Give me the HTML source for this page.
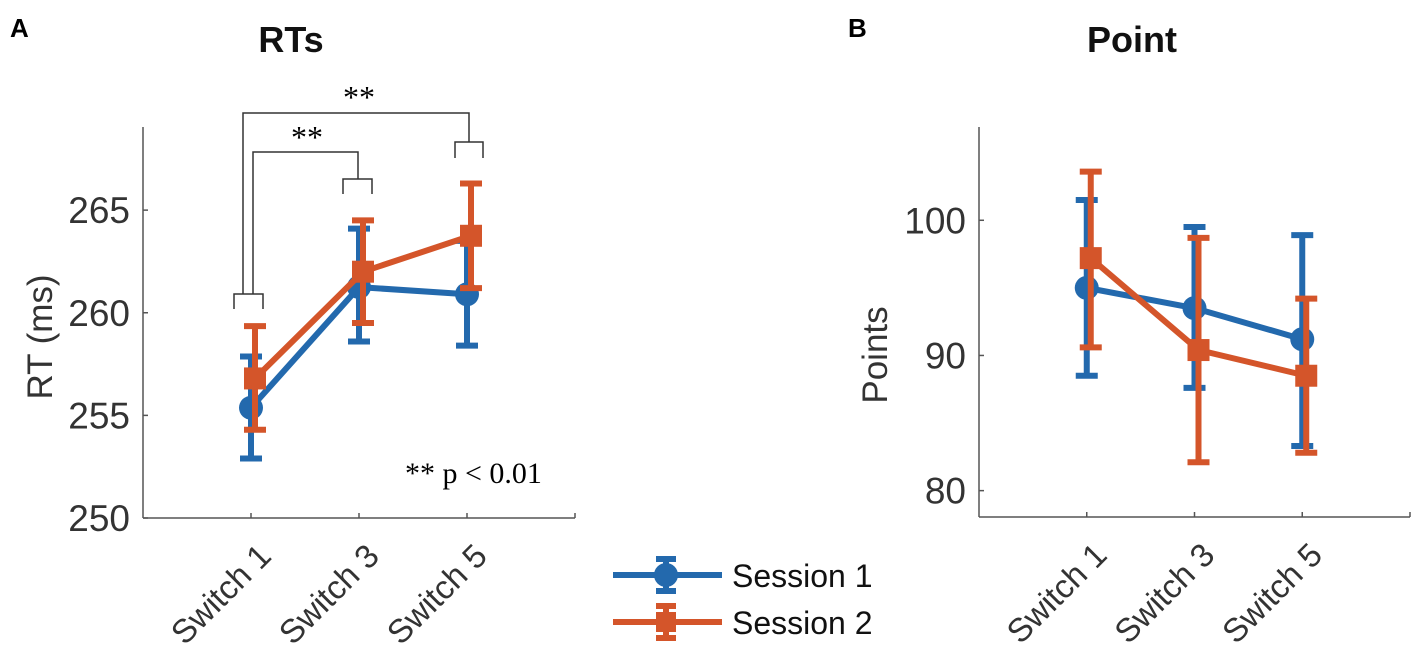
<!DOCTYPE html>
<html><head><meta charset="utf-8"><style>
body{margin:0;background:#fff}
svg{display:block;font-family:"Liberation Sans",sans-serif}
</style></head><body>
<svg id="c" width="1417" height="658" viewBox="0 0 1417 658">
<text x="10" y="37" font-size="26" font-weight="bold">A</text>
<text x="848" y="37" font-size="26" font-weight="bold">B</text>
<text x="291" y="52" font-size="36" font-weight="bold" text-anchor="middle" fill="#111">RTs</text>
<text x="1132" y="52" font-size="36" font-weight="bold" text-anchor="middle" fill="#111">Point</text>
<text transform="translate(52,337) rotate(-90)" font-size="35" text-anchor="middle" fill="#333">RT (ms)</text>
<text transform="translate(887,355) rotate(-90)" font-size="35" text-anchor="middle" fill="#333">Points</text>
<g id="sig" stroke="#333" stroke-width="1.5" fill="none">
<polyline points="243,294 243,113 469,113 469,142"/>
<polyline points="253,294 253,152 358,152 358,179"/>
<polyline points="234,309 234,294 263,294 263,309"/>
<polyline points="343,194 343,179 372,179 372,194"/>
<polyline points="455,158 455,142 483,142 483,158"/>
</g>
<text x="359" y="108" font-size="32" font-family="Liberation Serif,serif" text-anchor="middle">**</text>
<text x="307" y="148" font-size="32" font-family="Liberation Serif,serif" text-anchor="middle">**</text>
<text x="405" y="483" font-size="30" font-family="Liberation Serif,serif">** p &lt; 0.01</text>
<g>
<line x1="613" y1="575" x2="722" y2="575" stroke="#2369ad" stroke-width="6"/>
<line x1="666" y1="559" x2="666" y2="591" stroke="#2369ad" stroke-width="6"/>
<line x1="656" y1="559" x2="676" y2="559" stroke="#2369ad" stroke-width="6"/>
<line x1="656" y1="591" x2="676" y2="591" stroke="#2369ad" stroke-width="6"/>
<circle cx="666" cy="575" r="12" fill="#2369ad"/>
<text x="732" y="587" font-size="32" fill="#111">Session 1</text>
<line x1="613" y1="622" x2="722" y2="622" stroke="#d4552a" stroke-width="6"/>
<line x1="666" y1="606" x2="666" y2="638" stroke="#d4552a" stroke-width="6"/>
<line x1="656" y1="606" x2="676" y2="606" stroke="#d4552a" stroke-width="6"/>
<line x1="656" y1="638" x2="676" y2="638" stroke="#d4552a" stroke-width="6"/>
<rect x="656" y="612" width="20" height="20" fill="#d4552a"/>
<text x="732" y="634" font-size="32" fill="#111">Session 2</text>
</g>
</svg>
<script>
const categories = ["Switch 1","Switch 3","Switch 5"];
const rtS1 = [255.37, 261.25, 260.9];
const rtS1Hi = [257.87, 264.1, 263.5];
const rtS1Lo = [252.9, 258.6, 258.4];
const rtS2 = [256.8, 262.0, 263.75];
const rtS2Hi = [259.35, 264.5, 266.3];
const rtS2Lo = [254.3, 259.5, 261.2];
const rtTicks = [250, 255, 260, 265];
const ptS1 = [95.0, 93.5, 91.2];
const ptS1Hi = [101.5, 99.5, 98.9];
const ptS1Lo = [88.5, 87.6, 83.3];
const ptS2 = [97.2, 90.4, 88.5];
const ptS2Hi = [103.6, 98.7, 94.2];
const ptS2Lo = [90.6, 82.1, 82.8];
const ptTicks = [80, 90, 100];

const svg = document.getElementById('c');
const NS = 'http://www.w3.org/2000/svg';
function mk(tag, attrs, parent){const e=document.createElementNS(NS,tag);for(const k in attrs)e.setAttribute(k,attrs[k]);(parent||svg).appendChild(e);return e;}
const BLUE='#2369ad', ORANGE='#d4552a';

function panel(p){
  const xs = i => p.x0 + (i+1)*(p.x1-p.x0)/4;
  const ys = v => p.yb - (v-p.vmin)*(p.yb-p.yt)/(p.vmax-p.vmin);
  const g = mk('g',{});
  
  
  mk('line',{x1:p.x0,y1:p.yt,x2:p.x0,y2:p.yb,stroke:'#555','stroke-width':1.5},g);
  mk('line',{x1:p.x0,y1:p.yb,x2:p.x1,y2:p.yb,stroke:'#555','stroke-width':1.5},g);
  mk('line',{x1:p.x1,y1:p.yb,x2:p.x1,y2:p.yb-5,stroke:'#555','stroke-width':1.5},g);
  p.ticks.forEach(t=>{
    const y=ys(t);
    mk('line',{x1:p.x0,y1:y,x2:p.x0+5,y2:y,stroke:'#555','stroke-width':1.5},g);
    const tx=mk('text',{x:p.x0-13,y:y+13,'font-size':37,'text-anchor':'end',fill:'#333'},g);
    tx.textContent=t;
    
    
  });
  categories.forEach((c,i)=>{
    const x=xs(i);
    mk('line',{x1:x,y1:p.yb,x2:x,y2:p.yb-5,stroke:'#555','stroke-width':1.5},g);
    const tx=mk('text',{transform:`translate(${x+22},${p.yb+40}) rotate(-45)`,'font-size':33,'text-anchor':'end',fill:'#333'},g);
    tx.textContent=c;
    
    
  });
  const series=[
    {m:p.s1,hi:p.s1h,lo:p.s1l,col:BLUE,off:0,shape:'circle',n:'session-1'},
    {m:p.s2,hi:p.s2h,lo:p.s2l,col:ORANGE,off:4,shape:'square',n:'session-2'}];
  series.forEach(s=>{
    const sg=mk('g',{});
    
    
    const pts=s.m.map((v,i)=>(xs(i)+s.off)+','+ys(v)).join(' ');
    const pl=mk('polyline',{points:pts,fill:'none',stroke:s.col,'stroke-width':6},sg);
    
    s.m.forEach((v,i)=>{
      const x=xs(i)+s.off, yh=ys(s.hi[i]), yl=ys(s.lo[i]);
      const eb=mk('path',{d:`M${x},${yh}V${yl}M${x-11},${yh}H${x+11}M${x-11},${yl}H${x+11}`,stroke:s.col,'stroke-width':6,fill:'none'},sg);
      
      
      let mkEl;
      if(s.shape==='circle') mkEl=mk('circle',{cx:x,cy:ys(v),r:12,fill:s.col},sg);
      else mkEl=mk('rect',{x:x-11,y:ys(v)-11,width:22,height:22,fill:s.col},sg);
      
      
    });
  });
}
panel({name:'rt',x0:143,x1:575,yt:127,yb:518,vmin:250,vmax:269.05,ticks:rtTicks,
  s1:rtS1,s1h:rtS1Hi,s1l:rtS1Lo,s2:rtS2,s2h:rtS2Hi,s2l:rtS2Lo});
panel({name:'points',x0:979,x1:1410,yt:127,yb:517,vmin:78.05,vmax:106.9,ticks:ptTicks,
  s1:ptS1,s1h:ptS1Hi,s1l:ptS1Lo,s2:ptS2,s2h:ptS2Hi,s2l:ptS2Lo});
</script>
</body></html>
